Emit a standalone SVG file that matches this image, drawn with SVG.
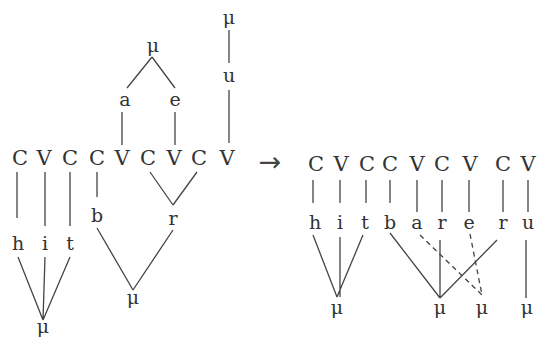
<svg xmlns="http://www.w3.org/2000/svg" width="537" height="337" viewBox="0 0 537 337">
<style>
text{font-family:"DejaVu Serif","Liberation Serif",serif;fill:#333;text-anchor:middle}
.cv{font-size:21px}
.seg{font-size:19px}
.mu{font-size:19px}
.arr{font-family:"DejaVu Sans",sans-serif;font-size:27px;fill:#444}
.ln{stroke:#444;stroke-width:1.3;fill:none}
.ds{stroke-dasharray:5 4}
</style>
<rect width="537" height="337" fill="#fff"/>
<g id="connectors" class="ln">
<path d="M152 57L127 88M152 57L175 88M122 112V145M175 112V145M229 30V63M229 90V143"/>
<path d="M17 172V218M45 172V226M70 172V226M97 172V197M150 172L173 205M197 172L173 205"/>
<path d="M18 257L43 320M45 257L43 320M70 257L43 320M97 228L133 290M173 230L133 290"/>
<path d="M313 180V203M340 180V203M366 180V203M390 180V203M417 180V212M442 180V212M469 180V212M503 180V212M528 180V212"/>
<path d="M313 235L337 297M340 237V297M363 235L337 297M390 233L440 298M440 240V298M497 240L440 298M526 240V298"/>
<path class="ds" d="M420 235L482 295M470 234L482 295"/>
</g>
<g id="left-cv" class="cv">
<text x="20" y="165">C</text><text x="44" y="165">V</text><text x="70" y="165">C</text><text x="97" y="165">C</text><text x="122" y="165">V</text><text x="148" y="165">C</text><text x="174" y="165">V</text><text x="199" y="165">C</text><text x="227" y="165">V</text>
</g>
<g id="left-top" >
<text class="mu" x="153" y="52">μ</text>
<text class="seg" x="125" y="106">a</text>
<text class="seg" x="175" y="106">e</text>
<text class="mu" x="229" y="24">μ</text>
<text class="seg" x="229" y="82">u</text>
</g>
<g id="left-bottom">
<text class="seg" x="18" y="250">h</text>
<text class="seg" x="45" y="250">i</text>
<text class="seg" x="70" y="250">t</text>
<text class="seg" x="97" y="222">b</text>
<text class="seg" x="173" y="225">r</text>
<text class="mu" x="133" y="304">μ</text>
<text class="mu" x="43" y="333">μ</text>
</g>
<g id="arrow"><text class="arr" x="270" y="171">→</text></g>
<g id="right-cv" class="cv">
<text x="316" y="171">C</text><text x="341" y="171">V</text><text x="367" y="171">C</text><text x="390" y="171">C</text><text x="417" y="171">V</text><text x="442" y="171">C</text><text x="470" y="171">V</text><text x="503" y="171">C</text><text x="528" y="171">V</text>
</g>
<g id="right-seg" class="seg">
<text x="315" y="229">h</text><text x="340" y="229">i</text><text x="365" y="229">t</text><text x="390" y="229">b</text><text x="417" y="229">a</text><text x="442" y="229">r</text><text x="469" y="229">e</text><text x="503" y="229">r</text><text x="528" y="229">u</text>
</g>
<g id="right-mu" class="mu">
<text x="337" y="314">μ</text><text x="440" y="314">μ</text><text x="482" y="314">μ</text><text x="527" y="314">μ</text>
</g>
</svg>
